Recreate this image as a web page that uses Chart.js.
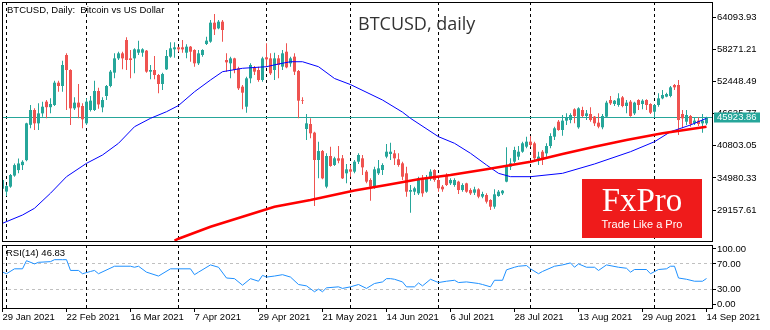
<!DOCTYPE html>
<html>
<head>
<meta charset="utf-8">
<title>BTCUSD, daily</title>
<style>
  html, body { margin: 0; padding: 0; background: #fff; }
  #wrap { position: relative; width: 770px; height: 330px; }
  #priceChart { position: absolute; left: 0; top: 0; }
  #rsiChart { position: absolute; left: 0; top: 243px; }
</style>
</head>
<body>
<div id="wrap">
  <canvas id="priceChart" width="770" height="243"></canvas>
  <canvas id="rsiChart" width="770" height="87"></canvas>
</div>
<script src="https://cdn.jsdelivr.net/npm/chart.js"></script>
<script>
  // date labels under the RSI pane, one every 16 bars
  const tickDates = ["29 Jan 2021", "22 Feb 2021", "16 Mar 2021", "7 Apr 2021", "29 Apr 2021", "21 May 2021",
    "14 Jun 2021", "6 Jul 2021", "28 Jul 2021", "13 Aug 2021", "29 Aug 2021", "14 Sep 2021"];
  const tickBars = [0, 16, 32, 48, 64, 80, 96, 112, 128, 144, 160, 176];
  // first bar of each month (period separators)
  const monthBars = [1, 21, 44, 66, 87, 109, 132, 163];

  const priceLevels = [29157.61, 34980.33, 40803.05, 46625.77, 52448.49, 58271.21, 64093.93];
  const lastPrice = 45923.86;

  const open = [
    33000, 32500, 33400, 35400, 36400, 37300, 38200, 44600, 47290, 44870,
    46680, 48800, 47800, 48200, 52240, 51640, 57260, 54540, 47590, 48620,
    48010, 44870, 47290, 47290, 50730, 47770, 49830, 51640, 54060, 56650,
    57560, 59980, 56650, 56650, 57680, 57680, 58050, 54240, 54540, 53630,
    52000, 54660, 56960, 58290, 58650, 58650, 57680, 58770, 58170, 55750,
    57260, 59250, 59680, 63120, 62090, 63300, 56350, 55750, 56650, 54840,
    51520, 47890, 53030, 54960, 54540, 52730, 56840, 56650, 54540, 56650,
    55150, 57860, 55750, 56960, 54360, 49100, 43840, 44750, 43180, 38220,
    39850, 33390, 38950, 37320, 38530, 38530, 35810, 36530, 36110, 37920,
    38530, 36110, 34600, 33390, 35810, 36410, 38830, 39310, 39430, 38350,
    37620, 35810, 32480, 32480, 32180, 34900, 32480, 34900, 36410, 34600,
    33390, 35500, 34000, 33690, 34300, 32780, 33990, 32780, 32300, 32900,
    31580, 31880, 30970, 29760, 31700, 32180, 34300, 37020, 37920, 38830,
    39730, 40640, 41550, 41250, 38100, 39730, 39430, 40760, 42450, 45170,
    43660, 45360, 45470, 47410, 44150, 47290, 46200, 46560, 46080, 44990,
    44150, 46080, 49100, 48380, 48190, 49580, 48010, 48800, 46680, 49100,
    48380, 49100, 48380, 46980, 48200, 49400, 49710, 49830, 51820, 51820,
    46560, 45170, 46200, 44870, 45360, 44870, 44870];
  const high = [
    35000, 33700, 35700, 37600, 38500, 38200, 45000, 48200, 47600, 48500,
    48800, 49100, 49400, 52600, 52600, 56230, 57560, 54660, 49580, 52000,
    48500, 49400, 49830, 52600, 51300, 49600, 51820, 54540, 57560, 57860,
    57860, 60460, 58170, 58470, 59860, 58470, 58170, 55450, 57080, 53800,
    54050, 58170, 59550, 59550, 58770, 59980, 59190, 58890, 58290, 58170,
    58290, 60580, 63600, 64690, 63600, 63600, 57560, 56960, 56780, 55140,
    51820, 53330, 55750, 55270, 55140, 56960, 59370, 57560, 57680, 57260,
    58170, 59370, 56960, 57560, 54540, 49580, 46560, 45780, 43360, 41550,
    40040, 39430, 40640, 38830, 40760, 39130, 37500, 37320, 38220, 39430,
    39130, 36400, 34900, 37000, 38220, 37620, 41120, 41360, 40040, 39430,
    37920, 37020, 33690, 33390, 35200, 35500, 35500, 36530, 36530, 34900,
    33690, 35810, 34900, 34900, 34480, 33990, 34120, 33090, 33390, 33090,
    32480, 32180, 31100, 32900, 32780, 32800, 40520, 38530, 40640, 40760,
    41550, 42450, 42570, 41550, 39730, 40040, 41250, 43060, 44270, 45470,
    46380, 46680, 46680, 47590, 47770, 47890, 47290, 47770, 46200, 46680,
    46560, 48980, 49830, 49100, 50310, 49830, 49100, 49100, 48800, 49220,
    49220, 49220, 48500, 48310, 50310, 50910, 50430, 51640, 52000, 52730,
    47290, 47290, 46380, 45960, 45960, 46560, 46080];
  const low = [
    32800, 31700, 33200, 35200, 35800, 36400, 38000, 43960, 43660, 43660,
    46080, 45780, 46680, 48000, 50610, 50610, 47290, 44570, 47290, 45780,
    43960, 44570, 47000, 47100, 47500, 46900, 49100, 51400, 53030, 56350,
    54660, 54540, 53030, 53940, 57260, 56960, 54060, 52850, 52850, 50310,
    50910, 54540, 56780, 56780, 57860, 57680, 56650, 56050, 55140, 55450,
    56960, 59070, 59500, 60880, 61910, 59680, 54240, 53030, 53940, 50910,
    47410, 46800, 52130, 53630, 52430, 52430, 55020, 53630, 52730, 53030,
    54540, 54840, 55140, 53630, 45780, 48380, 41850, 42150, 29880, 34900,
    34720, 33090, 37020, 37140, 37620, 34780, 33990, 35200, 35810, 37500,
    35500, 34000, 30850, 33000, 35500, 35500, 38530, 38220, 37320, 37020,
    34600, 31580, 28680, 31880, 31880, 31580, 32300, 34480, 34300, 32480,
    32480, 33510, 33690, 33390, 32060, 32480, 32300, 31880, 31880, 31280,
    31280, 30360, 29160, 29400, 31580, 31880, 34180, 36410, 37620, 38220,
    39550, 40340, 40640, 38220, 37320, 37320, 38830, 40340, 41850, 43540,
    42630, 44570, 44870, 44870, 43900, 45960, 45470, 45170, 44390, 43960,
    43780, 45960, 48190, 48010, 47890, 47770, 46680, 46080, 46380, 47290,
    47410, 47290, 46560, 45960, 47890, 49220, 49590, 49590, 50910, 42760,
    43960, 44570, 44270, 44570, 44390, 43180, 44570];
  const close = [
    34600, 33500, 35500, 37300, 37600, 37900, 44870, 47290, 44870, 46680,
    47890, 47800, 48380, 52240, 51640, 55450, 54540, 47590, 48620, 47770,
    45600, 48800, 48980, 50730, 48300, 49100, 51640, 54240, 56650, 57560,
    56650, 56350, 56350, 58290, 58290, 58290, 54240, 54540, 53630, 52000,
    53810, 57080, 58470, 58650, 58290, 58280, 58770, 57860, 55750, 57560,
    58170, 59860, 63120, 61910, 63300, 61790, 55930, 56650, 54540, 51220,
    50430, 53030, 55450, 54240, 52730, 56650, 56470, 53940, 56650, 55450,
    57560, 55020, 56650, 54240, 48980, 48980, 44870, 43060, 38220, 39850,
    34900, 38950, 37140, 38530, 38100, 34900, 36530, 36110, 37920, 39130,
    36890, 34300, 33390, 36530, 36710, 37320, 39730, 39730, 38530, 37320,
    35200, 32480, 32780, 33090, 34900, 32180, 34900, 36110, 34600, 33090,
    32910, 33690, 34600, 34600, 32780, 33690, 32480, 32180, 32900, 31580,
    32060, 30670, 29760, 32000, 32480, 32660, 37020, 37620, 40040, 39730,
    41250, 41550, 40940, 38530, 38830, 38220, 40760, 42570, 43970, 43660,
    45360, 45960, 46380, 46200, 47590, 46200, 46680, 45470, 44870, 44270,
    46200, 48620, 48500, 48980, 49400, 48010, 48620, 46200, 48620, 48200,
    48980, 48200, 46800, 48200, 49400, 50010, 50190, 51400, 51400, 45470,
    45780, 46380, 44750, 45360, 44750, 45360, 45923.86];

  // moving averages, read at bar indices
  const ma50Bars = [0, 5, 8, 12, 16, 21, 25, 29, 33, 37, 41, 44, 48, 52, 55, 60, 66, 69, 72, 75,
    79, 83, 87, 95, 100, 102, 109, 113, 117, 121, 124, 127, 132, 140, 148, 157, 163, 167, 172, 176];
  const ma50 = [26750, 28250, 29470, 32200, 35200, 37620, 39130, 41250, 44260, 45780, 46980, 48100, 50600, 52730, 54230, 54850, 55140, 55630, 56040, 56040,
    55140, 53000, 51900, 49100, 46900, 45780, 42450, 41250, 39440, 37320, 35810, 35200, 35200, 35810, 37500, 39730, 41540, 43350, 44570, 45780];
  const ma200Bars = [43, 44, 52, 60, 68, 77, 88, 96, 104, 112, 121, 132, 140, 148, 156, 165, 176];
  const ma200 = [23600, 23950, 26130, 27940, 29760, 30970, 32690, 33690, 34720, 35500, 36540, 37910, 39310, 40630, 41850, 43060, 44260];

  const rsiBars = [0, 1, 3, 5, 6, 8, 9, 12, 13, 15, 16, 17, 19, 20, 22, 23, 24, 28, 32, 33,
    34, 36, 39, 42, 47, 48, 49, 52, 54, 56, 58, 60, 62, 64, 65, 66, 68, 70, 72, 74,
    76, 78, 79, 80, 81, 84, 85, 87, 89, 91, 93, 95, 96, 97, 98, 100, 101, 103, 104, 105,
    107, 109, 111, 113, 114, 116, 119, 120, 122, 123, 125, 126, 128, 129, 131, 132, 134, 135, 138, 140,
    142, 143, 144, 146, 148, 149, 151, 154, 156, 157, 158, 161, 162, 164, 166, 167, 168, 169, 171, 173,
    175, 176];
  const rsi = [57, 54.4, 62.2, 62.2, 75.1, 70, 72.5, 73.6, 76.7, 76.7, 76.7, 59.6, 59.6, 54.4, 58, 59.6, 54.4, 66.3, 66.3, 64.7,
    66.3, 56.9, 50.7, 62.2, 62.2, 52.9, 56.9, 68.4, 64.7, 47.6, 46.6, 36.2, 46.6, 42.5, 51.8, 49.1, 50.7, 52.9, 49.1, 37.3,
    35.1, 25.8, 30, 25.8, 32, 33.6, 31.1, 33.6, 37.3, 31.1, 38.9, 41.4, 46.6, 46.6, 45.6, 41.4, 33.6, 33.6, 39.8, 35.1,
    45.6, 40.4, 42.5, 44, 40.4, 41.4, 38.9, 37.3, 33.6, 44, 44, 60.6, 64.7, 66.3, 67.4, 62.2, 54.4, 58, 66.3, 68.4,
    71.6, 64.7, 70, 64.7, 64.7, 59.6, 68.4, 64.7, 63.1, 56.9, 61.1, 61.1, 54.4, 61.1, 62.2, 66.3, 66.3, 47.6, 45.6, 42.5,
    42.5, 46.83];
  const rsiLevels = [0, 30, 70, 100];

  const TEAL = "#26a69a";
  const RED = "#ef5350";
  const FONT = '"Liberation Sans", Arial, sans-serif';

  Chart.defaults.font.family = FONT;
  Chart.defaults.font.size = 9.5;
  Chart.defaults.color = "#000";

  const bars = close.map((c, i) => i);
  const candleColor = (c) => (close[c.dataIndex] >= open[c.dataIndex] ? TEAL : RED);
  const xMin = -0.125;
  const xMax = 177.375;
  const rsiEdge = 6.3; // keeps the 0 / 100 labels inside the pane

  function noPad(scale) {
    scale.paddingLeft = 0;
    scale.paddingRight = 0;
    scale.paddingTop = 0;
    scale.paddingBottom = 0;
  }

  function monthLines(chart) {
    const { ctx, chartArea: a, scales } = chart;
    ctx.save();
    ctx.strokeStyle = "#000";
    ctx.lineWidth = 1;
    ctx.setLineDash([3, 3]);
    monthBars.forEach((b) => {
      const px = Math.floor(scales.x.getPixelForValue(b)) + 0.5;
      ctx.beginPath();
      ctx.moveTo(px, a.top);
      ctx.lineTo(px, a.bottom);
      ctx.stroke();
    });
    ctx.restore();
  }

  function frame(chart) {
    const { ctx, chartArea: a } = chart;
    ctx.save();
    ctx.strokeStyle = "#000";
    ctx.lineWidth = 1;
    ctx.strokeRect(a.left + 0.5, a.top + 0.5, a.right - a.left, a.bottom - a.top);
    ctx.restore();
  }

  const priceDecor = {
    id: "priceDecor",
    beforeDatasetsDraw(chart) {
      monthLines(chart);
      const { ctx, chartArea: a, scales } = chart;
      const py = Math.floor(scales.y.getPixelForValue(lastPrice)) + 0.5;
      ctx.save();
      ctx.strokeStyle = TEAL;
      ctx.lineWidth = 1;
      ctx.beginPath();
      ctx.moveTo(a.left, py);
      ctx.lineTo(a.right, py);
      ctx.stroke();
      ctx.restore();
    },
    afterDraw(chart) {
      frame(chart);
      const { ctx, scales } = chart;
      ctx.save();
      ctx.fillStyle = "#000";
      ctx.font = "9.5px " + FONT;
      ctx.textBaseline = "middle";
      ctx.fillText("BTCUSD, Daily:  Bitcoin vs US Dollar", 7, 10);

      ctx.fillStyle = "#333";
      ctx.font = '18px "Open Sans", sans-serif';
      ctx.textBaseline = "alphabetic";
      ctx.fillText("BTCUSD, daily", 358, 30);

      // FxPro badge
      ctx.fillStyle = "#ef1b1b";
      ctx.fillRect(582, 179, 120, 59);
      ctx.fillStyle = "#fff";
      ctx.textAlign = "center";
      ctx.font = '33px "Liberation Serif", "Times New Roman", serif';
      ctx.fillText("FxPro", 642, 211);
      ctx.font = "11px " + FONT;
      ctx.fillText("Trade Like a Pro", 642, 228);

      // last price tag on the axis
      const py = Math.floor(scales.y.getPixelForValue(lastPrice)) + 0.5;
      ctx.fillStyle = TEAL;
      ctx.fillRect(714, py - 5, 46, 10);
      ctx.fillStyle = "#fff";
      ctx.textAlign = "left";
      ctx.textBaseline = "middle";
      ctx.font = "9.5px " + FONT;
      ctx.fillText(lastPrice.toFixed(2), 717, py);
      ctx.restore();
    },
  };

  const rsiDecor = {
    id: "rsiDecor",
    beforeDatasetsDraw(chart) {
      const { ctx, chartArea: a, scales } = chart;
      ctx.save();
      ctx.strokeStyle = "#c0c0c0";
      ctx.lineWidth = 1;
      ctx.setLineDash([3, 3]);
      [30, 70].forEach((v) => {
        const py = Math.floor(scales.y.getPixelForValue(v)) + 0.5;
        ctx.beginPath();
        ctx.moveTo(a.left, py);
        ctx.lineTo(a.right, py);
        ctx.stroke();
      });
      ctx.restore();
      monthLines(chart);
    },
    afterDraw(chart) {
      frame(chart);
      const { ctx } = chart;
      ctx.save();
      ctx.fillStyle = "#000";
      ctx.font = "9.5px " + FONT;
      ctx.textBaseline = "middle";
      ctx.fillText("RSI(14) " + rsi[rsi.length - 1].toFixed(2), 6, 10.5);
      ctx.restore();
    },
  };

  new Chart(document.getElementById("priceChart"), {
    type: "bar",
    data: {
      datasets: [
        {
          type: "line",
          label: "MA 50",
          data: ma50Bars.map((b, k) => ({ x: b, y: ma50[k] })),
          borderColor: "#0000ff",
          borderWidth: 1,
          pointRadius: 0,
          tension: 0,
          order: 1,
        },
        {
          type: "line",
          label: "MA 200",
          data: ma200Bars.map((b, k) => ({ x: b, y: ma200[k] })),
          borderColor: "#ff0000",
          borderWidth: 2.5,
          pointRadius: 0,
          tension: 0,
          order: 0,
        },
        {
          label: "Wick",
          data: bars.map((i) => ({ x: i, y: [low[i], high[i]] })),
          backgroundColor: candleColor,
          barThickness: 1,
          grouped: false,
          inflateAmount: 0,
          borderWidth: 0,
          order: 3,
        },
        {
          label: "Body",
          data: bars.map((i) => ({ x: i, y: [open[i], close[i]] })),
          backgroundColor: candleColor,
          barThickness: 3,
          grouped: false,
          inflateAmount: 0,
          borderWidth: 0,
          order: 2,
        },
      ],
    },
    options: {
      responsive: false,
      animation: false,
      layout: { padding: { left: 2, top: 2, right: 0, bottom: 2 } },
      plugins: { legend: { display: false }, tooltip: { enabled: false } },
      scales: {
        x: { type: "linear", display: false, min: xMin, max: xMax, bounds: "data", offset: false },
        y: {
          position: "right",
          min: 23540,
          max: 66868,
          bounds: "data",
          afterBuildTicks: (s) => {
            s.ticks = priceLevels.map((v) => ({ value: v }));
          },
          ticks: { autoSkip: false, padding: 1, callback: (v) => v.toFixed(2) },
          grid: { drawOnChartArea: false, tickLength: 4, color: "#000" },
          border: { display: false },
          afterFit: (s) => {
            s.width = 58;
            noPad(s);
          },
        },
      },
    },
    plugins: [priceDecor],
  });

  new Chart(document.getElementById("rsiChart"), {
    type: "line",
    data: {
      datasets: [
        {
          label: "RSI(14)",
          data: rsiBars.map((b, k) => ({ x: b, y: rsi[k] })),
          borderColor: "#1e90ff",
          borderWidth: 1,
          pointRadius: 0,
          tension: 0,
        },
      ],
    },
    options: {
      responsive: false,
      animation: false,
      layout: { padding: { left: 2, top: 2, right: 0, bottom: 0 } },
      plugins: { legend: { display: false }, tooltip: { enabled: false } },
      scales: {
        x: {
          type: "linear",
          min: xMin,
          max: xMax,
          bounds: "data",
          offset: false,
          afterBuildTicks: (s) => {
            s.ticks = tickBars.map((b) => ({ value: b }));
          },
          ticks: { autoSkip: false, maxRotation: 0, align: "start", padding: 0, callback: (v, i) => tickDates[i] },
          grid: { drawOnChartArea: false, tickLength: 4, color: "#000" },
          border: { display: false },
          afterFit: (s) => {
            s.height = 22;
            noPad(s);
          },
        },
        y: {
          position: "right",
          min: 0,
          max: 100,
          bounds: "data",
          afterBuildTicks: (s) => {
            s.ticks = rsiLevels.map((v) => ({ value: v === 100 ? 100 - rsiEdge : v === 0 ? rsiEdge : v }));
          },
          ticks: { autoSkip: false, padding: 1, callback: (v, i) => rsiLevels[i].toFixed(2) },
          grid: { drawOnChartArea: false, tickLength: 4, color: "#000" },
          border: { display: false },
          afterFit: (s) => {
            s.width = 58;
            noPad(s);
          },
        },
      },
    },
    plugins: [rsiDecor],
  });
</script>
</body>
</html>
